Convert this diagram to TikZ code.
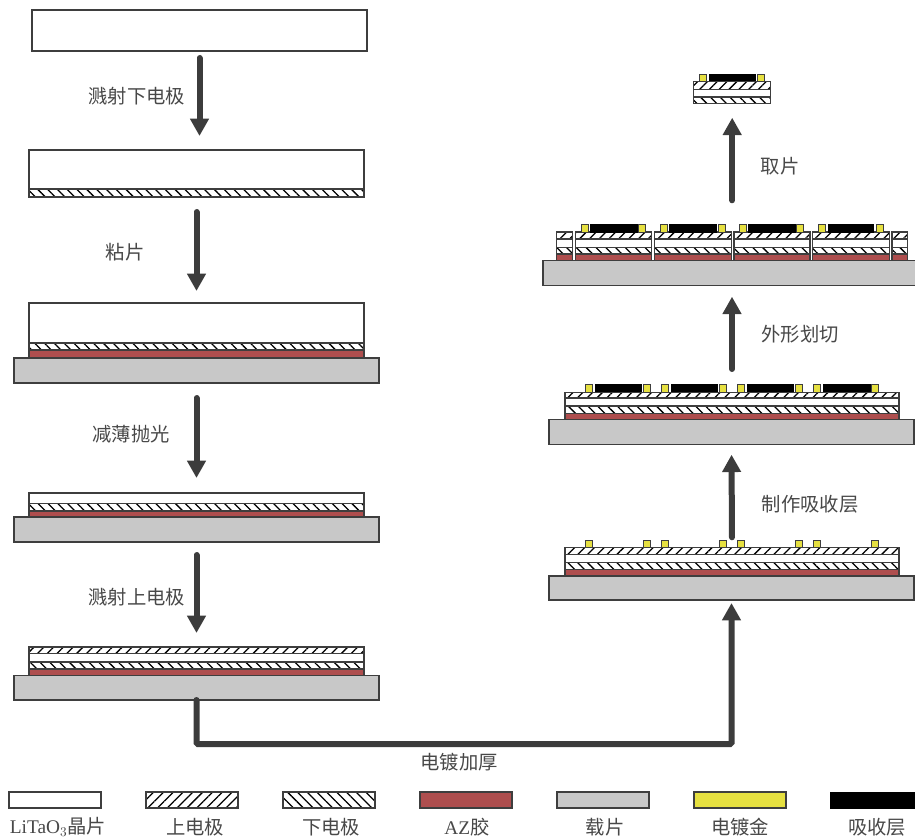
\documentclass[tikz,border=0pt]{standalone}
\usepackage{fontspec}
\usepackage{tikz}
\usetikzlibrary{arrows.meta,patterns.meta,fit}
\setmainfont{Liberation Serif}
\newfontfamily\cjk{Noto Sans CJK SC}
\definecolor{edgegray}{RGB}{62, 62, 62}
\definecolor{arrowgray}{RGB}{60, 60, 60}
\definecolor{azred}{RGB}{174, 78, 78}
\definecolor{carriergray}{RGB}{200, 200, 200}
\definecolor{goldyellow}{RGB}{230, 224, 64}
\definecolor{textgray}{RGB}{72, 72, 72}

\begin{document}
\begin{tikzpicture}[
      x=0.75pt, y=-0.75pt,
      crystal/.style={draw=edgegray, line width=0.9pt, fill=white},
      topel/.style={draw=edgegray, line width=0.9pt, pattern={Lines[angle=45,distance=5.2pt,line width=0.95pt]}},
      botel/.style={draw=edgegray, line width=0.9pt, pattern={Lines[angle=-45,distance=5.2pt,line width=0.95pt]}},
      glue/.style={draw=edgegray, line width=0.9pt, fill=azred},
      carrier/.style={draw=edgegray, line width=0.9pt, fill=carriergray, inner sep=0pt, outer sep=0pt},
      gold/.style={draw=edgegray, line width=0.7pt, fill=goldyellow},
      absorber/.style={draw=black, line width=0.6pt, fill=black},
      box/.style={inner sep=0pt, outer sep=0pt},
      flow/.style={draw=arrowgray, line width=4.5pt, line cap=round, -{Triangle[width=13.5pt,length=13pt]}},
      gap/.style 2 args={shorten <=#1*0.75pt, shorten >=#2*0.75pt},
      label/.style={font=\cjk\fontsize{14.5}{16}\selectfont, text=textgray, inner sep=0pt}
  ]
      \useasboundingbox (0,0) rectangle (915,838);

      % Colonne gauche
      \node[box, crystal, fit={(32,10) (367,51)}] (wafera) {};

      \node[box, crystal, fit={(29,150) (364,189)}] (waferb) {};
      \node[box, botel, fit={(29,189) (364,197)}] (elecb) {};

      \node[box, crystal, fit={(29,303) (364,343)}] (waferc) {};
      \draw[botel] (29,343) rectangle (364,350);
      \draw[glue] (29,350) rectangle (364,358);
      \node[carrier, fit={(14,358) (379,383)}] (carc) {};

      \node[box, crystal, fit={(29,493) (364,503.5)}] (waferd) {};
      \draw[botel] (29,503.5) rectangle (364,511);
      \draw[glue] (29,511) rectangle (364,517);
      \node[carrier, fit={(14,517) (379,542)}] (card) {};

      \node[box, topel, fit={(29,647) (364,653.5)}] (elece) {};
      \draw[crystal] (29,653.5) rectangle (364,662);
      \draw[botel] (29,662) rectangle (364,669);
      \draw[glue] (29,669) rectangle (364,675.5);
      \node[carrier, fit={(14,675.5) (379,700)}] (care) {};

      % Colonne droite
      \node[box, topel, fit={(565,547.3) (899,554.3)}] (elecf) {};
      \draw[crystal] (565,554.3) rectangle (899,562.3);
      \draw[botel] (565,562.3) rectangle (899,569.3);
      \draw[glue] (565,569.3) rectangle (899,576);
      \node[carrier, fit={(549,576) (914,600)}] (carf) {};
      \foreach \px in {589.3,647,665.3,722.7,741.3,799.3,817.3,875}
          \draw[gold] (\px-3.6,540.5) rectangle (\px+3.6,547.3);

      \foreach \ax/\bx in {595.3/641,671/717.3,747.3/793.3,823/870}
          \draw[absorber] (\ax,384) rectangle (\bx,392.3);
      \node[box, absorber, fit={(595.3,384) (641,392.3)}] (absg) {};
      \node[box, topel, fit={(565,392.3) (899,398)}] (elecg) {};
      \draw[crystal] (565,398) rectangle (899,406);
      \draw[botel] (565,406) rectangle (899,413.3);
      \draw[glue] (565,413.3) rectangle (899,419.3);
      \node[carrier, fit={(549,419.3) (914,444.7)}] (carg) {};
      \foreach \px in {589.3,647,665.3,722.7,741.3,799.3,817.3,875}
          \draw[gold] (\px-3.6,384) rectangle (\px+3.6,392.3);

      % Puces decoupees
      \foreach \ax/\bx in {556.7/572.7,575.3/651.7,654.3/731.3,734/810,812.7/889.3,892/907.7} {
          \draw[topel] (\ax,232) rectangle (\bx,239);
          \draw[crystal] (\ax,239) rectangle (\bx,247.3);
          \draw[botel] (\ax,247.3) rectangle (\bx,254);
          \draw[glue] (\ax,254) rectangle (\bx,260.7);
      }
      \foreach \ax/\bx in {590.7/637,669.3/716,748.7/795,828/873.7}
          \draw[absorber] (\ax,224.3) rectangle (\bx,232);
      \foreach \px in {585,642.3,663.7,721.7,743,800.3,822,879.7}
          \draw[gold] (\px-3.6,224.3) rectangle (\px+3.6,232);
      \node[carrier, fit={(543,260.7) (917,285.7)}] (carh) {};
      \node[box, fit={(575.3,224.3) (889.3,232)}] (toph) {};

      % Puce finale
      \draw[absorber] (709,74) rectangle (755,81.7);
      \draw[gold] (699.7,74) rectangle (706.9,81.7);
      \draw[gold] (757.4,74) rectangle (764.6,81.7);
      \draw[topel] (693.7,81.7) rectangle (770.7,89.3);
      \draw[crystal] (693.7,89.3) rectangle (770.7,97);
      \node[box, botel, fit={(693.7,97) (770.7,103.7)}] (eleci) {};

      % Fleches
      \draw[flow, gap={7}{14}] (wafera.south) -- (wafera.south |- waferb.north);
      \draw[flow, gap={15}{12}] (elecb.south) -- (waferc.north);
      \draw[flow, gap={15}{15}] (carc.south) -- (waferd.north);
      \draw[flow, gap={13}{14}] (card.south) -- (elece.north);
      \coordinate (bend) at (459,744);
      \draw[flow, rounded corners=1pt, gap={0}{3}] (care.south) |- (bend) -| (carf.south);
      \draw[flow, gap={10}{10}] (elecf.north) -- (carg.south);
      \draw[flow, gap={15}{11}] (elecg.north |- absg.north) -- (elecg.north |- carh.south);
      \draw[flow, gap={24}{14}] (eleci.south |- toph.north) -- (eleci.south);

      % Etiquettes
      \node[label] (laba) at (137,96) {溅射下电极};
      \node[label] (labb) at (125,252) {粘片};
      \node[label] (labc) at (131,434) {减薄抛光};
      \node[label] (labd) at (137,597) {溅射上电极};
      \node[label] (labe) at (459,762) {电镀加厚};
      \node[label] (labf) at (810,504) {制作吸收层};
      \node[label] (labg) at (800,334) {外形划切};
      \node[label] (labh) at (780,166) {取片};

      % Legende
      \node[box, crystal, fit={(9,792) (101,808)}] (lega) {};
      \node[box, topel, fit={(146,792) (238,808)}] (legb) {};
      \node[box, botel, fit={(283,792) (375,808)}] (legc) {};
      \node[box, glue, fit={(420,792) (512,808)}] (legd) {};
      \node[carrier, fit={(557,792) (649,808)}] (lege) {};
      \node[box, draw=edgegray, line width=0.9pt, fill=goldyellow, fit={(694,792) (786,808)}] (legf) {};
      \node[box, absorber, fit={(830,792) (917,808)}] (legg) {};
      \node[label] (txta) at (58,827) {{\rmfamily LiTaO$_3$}晶片};
      \node[label] (txtb) at (195,827) {上电极};
      \node[label] (txtc) at (331,827) {下电极};
      \node[label] (txtd) at (467,827) {{\rmfamily AZ}胶};
      \node[label] (txte) at (605,827) {载片};
      \node[label] (txtf) at (740,827) {电镀金};
      \node[label] (txtg) at (877,827) {吸收层};
  \end{tikzpicture}
\end{document}
